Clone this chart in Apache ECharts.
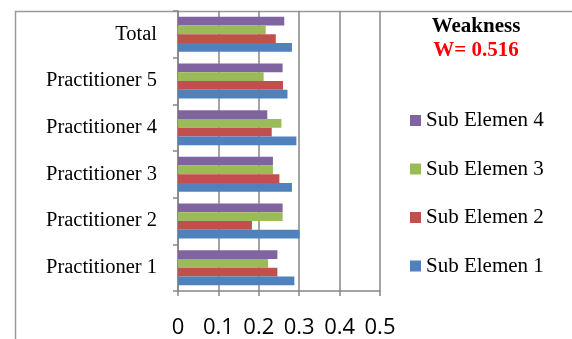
<!DOCTYPE html>
<html><head><meta charset="utf-8">
<script src="https://cdn.jsdelivr.net/npm/echarts@6/dist/echarts.min.js"></script>
<style>html,body{margin:0;padding:0;background:#fff}#c{width:572px;height:339px}</style>
</head><body><div id="c"></div>
<script>
const categories = ['Practitioner 1','Practitioner 2','Practitioner 3','Practitioner 4','Practitioner 5','Total'];
const sub1 = [0.288, 0.301, 0.282, 0.293, 0.271, 0.282];
const sub2 = [0.246, 0.183, 0.251, 0.232, 0.260, 0.242];
const sub3 = [0.223, 0.259, 0.235, 0.256, 0.212, 0.217];
const sub4 = [0.246, 0.259, 0.235, 0.221, 0.259, 0.263];
const xTicks = [0, 0.1, 0.2, 0.3, 0.4, 0.5];
const seriesNames = ['Sub Elemen 4','Sub Elemen 3','Sub Elemen 2','Sub Elemen 1'];
const seriesData = [sub4, sub3, sub2, sub1];
const colors = ['#8064A2','#9BBB59','#C0504D','#4F81BD'];
const titleText = 'Weakness';
const subText = 'W= 0.516';

const chart = echarts.init(document.getElementById('c'), null, {renderer:'canvas'});
const serif = '"Liberation Serif", "Times New Roman", serif';
chart.setOption({
  animation: false,
  graphic: [
    {type:'rect', left:13, top:9, shape:{width:620, height:400}, style:{fill:'none', stroke:'#9a9a9a', lineWidth:1.5}, z:-1},
    {type:'text', x:476, y:27, style:{text:titleText, font:'bold 21px ' + serif, fill:'#000', align:'center', verticalAlign:'middle'}},
    {type:'text', x:476, y:51, style:{text:subText, font:'bold 21px ' + serif, fill:'#ff0000', align:'center', verticalAlign:'middle'}}
  ],
  legend: {
    orient:'vertical', left:410, top:110, padding:0, itemWidth:11, itemHeight:11, itemGap:27.5,
    icon:'rect', data: seriesNames,
    textStyle:{fontFamily:serif, fontSize:21, color:'#000'}
  },
  grid: {left:178, right:192, top:11, bottom:48, containLabel:false},
  xAxis: {
    type:'value', min:0, max:0.5, interval:0.1,
    axisLine:{show:true, lineStyle:{color:'#868686', width:1.5}},
    axisTick:{show:true, length:5, lineStyle:{color:'#868686', width:1.5}},
    splitLine:{show:true, lineStyle:{color:'#868686', width:1.5}},
    axisLabel:{margin:26, fontFamily:'"Open Sans", sans-serif', fontSize:22, color:'#000',
      formatter: v => { const t = xTicks.find(x => Math.abs(x - v) < 1e-9); return t === undefined ? '' : String(t); }}
  },
  yAxis: {
    type:'category', data: categories,
    axisLine:{show:true, lineStyle:{color:'#868686', width:1.5}},
    axisTick:{show:true, length:5, lineStyle:{color:'#868686', width:1.5}},
    axisLabel:{margin:21, fontFamily:serif, fontSize:20.5, color:'#000'}
  },
  series: seriesNames.map((n, i) => ({
    type:'bar', name:n, data: seriesData[i], barGap:'0%', barCategoryGap:'25%',
    itemStyle:{color: colors[i]}
  }))
});
</script></body></html>
